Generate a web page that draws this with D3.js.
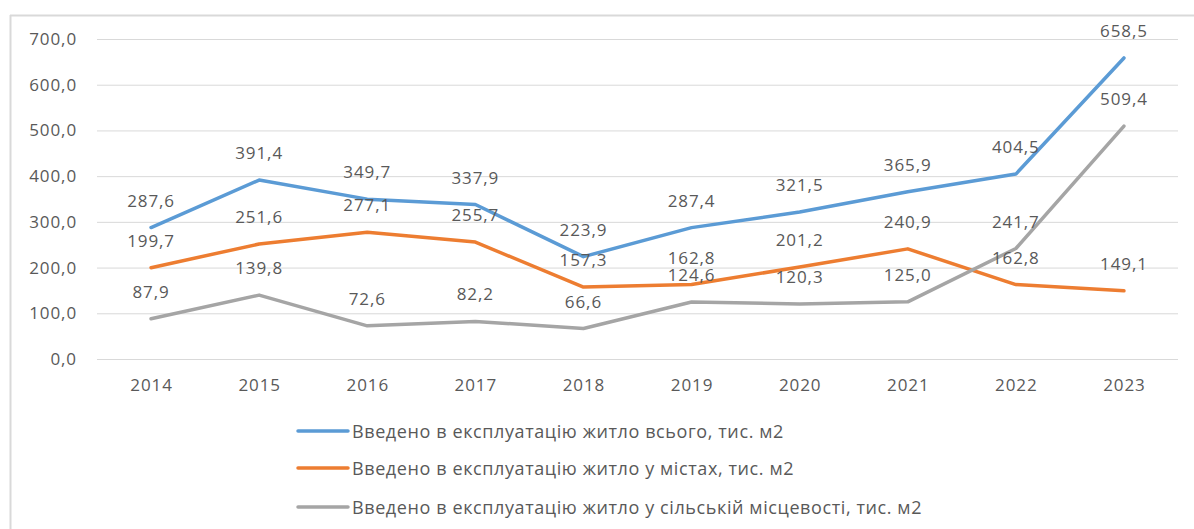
<!DOCTYPE html>
<html><head><meta charset="utf-8">
<script src="https://cdn.jsdelivr.net/npm/d3@7"></script>
<style>
html,body{margin:0;padding:0;background:#fff;}
text{font-family:"Open Sans",sans-serif;fill:#595959;}
</style></head>
<body>
<svg id="chart" width="1194" height="529"></svg>
<script>
const years = ["2014","2015","2016","2017","2018","2019","2020","2021","2022","2023"];
const totalValues = [287.6,391.4,349.7,337.9,223.9,287.4,321.5,365.9,404.5,658.5];
const cityValues = [199.7,251.6,277.1,255.7,157.3,162.8,201.2,240.9,162.8,149.1];
const ruralValues = [87.9,139.8,72.6,82.2,66.6,124.6,120.3,125.0,241.7,509.4];
const yTicks = [0,100,200,300,400,500,600,700];
const seriesNames = [
  "Введено в експлуатацію житло всього, тис. м2",
  "Введено в експлуатацію житло у містах, тис. м2",
  "Введено в експлуатацію житло у сільській місцевості, тис. м2"
];
const colors = ["#5B9BD5","#ED7D31","#A5A5A5"];

const series = [totalValues, cityValues, ruralValues].map((v,i)=>({name:seriesNames[i], color:colors[i], values:v}));

const svg = d3.select("#chart");
const fmt = v => d3.format(".1f")(v).replace(".", ",");

// frame (cropped: top and left edges)
svg.append("line").attr("x1",10).attr("x2",1194).attr("y1",15.5).attr("y2",15.5).attr("stroke","#d9d9d9").attr("stroke-width",2);
svg.append("line").attr("x1",10.5).attr("x2",10.5).attr("y1",15).attr("y2",529).attr("stroke","#d9d9d9").attr("stroke-width",2);

const x = d3.scalePoint().domain(years).range([97,1178]).padding(0.5);
const y = d3.scaleLinear().domain([0,700]).range([359,39]);

// grid
const yAxis = d3.axisLeft(y).tickValues(yTicks).tickSize(-(1178-97)).tickFormat(fmt).tickPadding(20);
const ga = svg.append("g").attr("transform","translate(97,0)").call(yAxis);
ga.select(".domain").remove();
ga.selectAll(".tick line").attr("stroke","#d9d9d9").attr("stroke-width",1);
ga.selectAll(".tick text").attr("font-size",17).attr("letter-spacing",0.9).attr("fill","#595959").style("font-family","'Open Sans',sans-serif");

const xAxis = d3.axisBottom(x).tickSize(0).tickPadding(0);
const gx = svg.append("g").attr("transform","translate(0,359)").call(xAxis);
gx.select(".domain").remove();
gx.selectAll(".tick text").attr("font-size",17).attr("letter-spacing",0.9).attr("dy",null).attr("y",32).attr("fill","#595959").style("font-family","'Open Sans',sans-serif");

const line = d3.line().x((d,i)=>x(years[i])).y(d=>y(d));

series.forEach(s=>{
  svg.append("path").datum(s.values).attr("d",line).attr("fill","none")
    .attr("stroke",s.color).attr("stroke-width",3.5).attr("stroke-linejoin","round").attr("stroke-linecap","round");
});
series.forEach(s=>{
  svg.append("g").selectAll("text").data(s.values).join("text")
    .attr("x",(d,i)=>x(years[i])).attr("y",d=>y(d)-21)
    .attr("text-anchor","middle").attr("font-size",17).attr("letter-spacing",0.9)
    .text(d=>fmt(d));
});

// legend
const legendRows = [431,468,507];
series.forEach((s,i)=>{
  const g = svg.append("g").attr("transform",`translate(298,${legendRows[i]})`);
  g.append("line").attr("x1",0).attr("x2",50).attr("y1",0).attr("y2",0).attr("stroke",s.color).attr("stroke-width",3.5).attr("stroke-linecap","round");
  g.append("text").attr("x",54).attr("y",6.5).attr("font-size",18).attr("letter-spacing",0.6).text(s.name);
});
</script>
</body></html>
